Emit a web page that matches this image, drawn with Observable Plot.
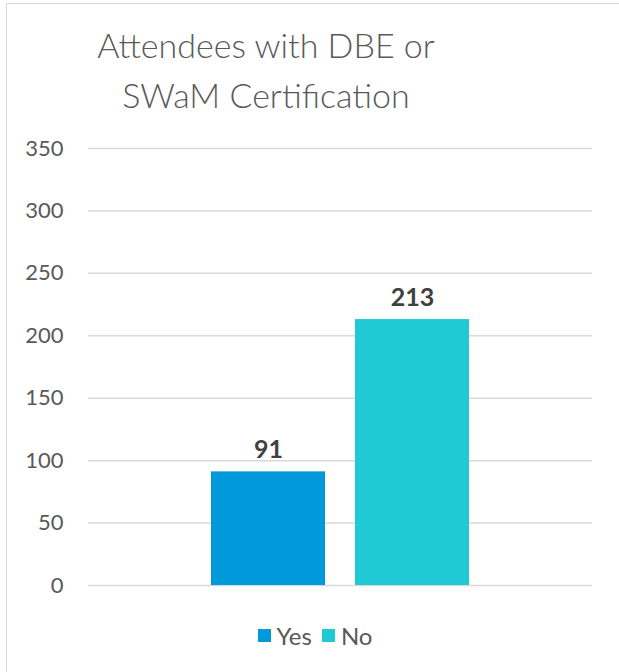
<!DOCTYPE html>
<html>
<head>
<meta charset="utf-8">
<script src="https://cdn.jsdelivr.net/npm/d3@7"></script>
<script src="https://cdn.jsdelivr.net/npm/@observablehq/plot@0.6"></script>
<style>
  html, body { margin: 0; padding: 0; background: #fff; }
  body { width: 619px; height: 672px; overflow: hidden; position: relative; font-family: "Lato", "Open Sans", sans-serif; }
  #frame { position: absolute; left: 6px; top: 3px; width: 640px; height: 700px; border: 1px solid #d9d9d9; box-sizing: border-box; }
  #title { position: absolute; left: 66px; width: 400px; top: 20px; text-align: center; color: #595959; font-size: 34px; line-height: 50px; font-weight: 300; }
  #chart { position: absolute; left: 0; top: 120px; }
  #legend { position: absolute; top: 618px; left: 0; width: 630px; text-align: center; color: #595959; font-size: 24px; font-weight: 400; }
  #legend span.item { display: inline-flex; align-items: center; margin: 0 5px; }
  #legend span.sw { width: 13px; height: 13px; display: inline-block; margin-right: 6px; }
</style>
</head>
<body>
<div id="frame"></div>
<div id="title">Attendees with DBE or<br>SWaM Certification</div>
<div id="chart"></div>
<div id="legend"></div>
<script>
const categories = ["Yes", "No"];
const values = [91, 213];
const colors = ["#0099d9", "#1fcad4"];
const yTicks = [0, 50, 100, 150, 200, 250, 300, 350];
const titleText = "Attendees with DBE or SWaM Certification";

const data = categories.map((c, i) => ({category: c, value: values[i]}));

const chart = Plot.plot({
  width: 619,
  height: 490,
  marginTop: 28,
  marginBottom: 25,
  marginLeft: 88,
  marginRight: 27,
  style: {fontFamily: "Lato, 'Open Sans', sans-serif", background: "transparent"},
  x: {domain: categories, paddingInner: 0.2083, paddingOuter: 0.854, axis: null},
  y: {domain: [0, 350], ticks: yTicks, grid: false, label: null},
  color: {domain: categories, range: colors},
  marks: [
    Plot.ruleY(yTicks, {stroke: "#d9d9d9", strokeWidth: 1.5, strokeOpacity: 1}),
    Plot.axisY({ticks: yTicks, tickSize: 0, tickPadding: 25, fontSize: 22, fontWeight: 400, color: "#595959", label: null, tickFormat: d => String(d)}),
    Plot.barY(data, {x: "category", y: "value", fill: "category"}),
    Plot.text(data, {x: "category", y: "value", text: d => String(d.value), lineAnchor: "bottom", dy: -14, fontSize: 25, fontWeight: "bold", fill: "#404040"})
  ]
});
document.getElementById("chart").appendChild(chart);

const legend = document.getElementById("legend");
categories.forEach((c, i) => {
  const item = document.createElement("span");
  item.className = "item";
  const sw = document.createElement("span");
  sw.className = "sw";
  sw.style.background = colors[i];
  item.appendChild(sw);
  item.appendChild(document.createTextNode(c));
  legend.appendChild(item);
});
</script>
</body>
</html>
